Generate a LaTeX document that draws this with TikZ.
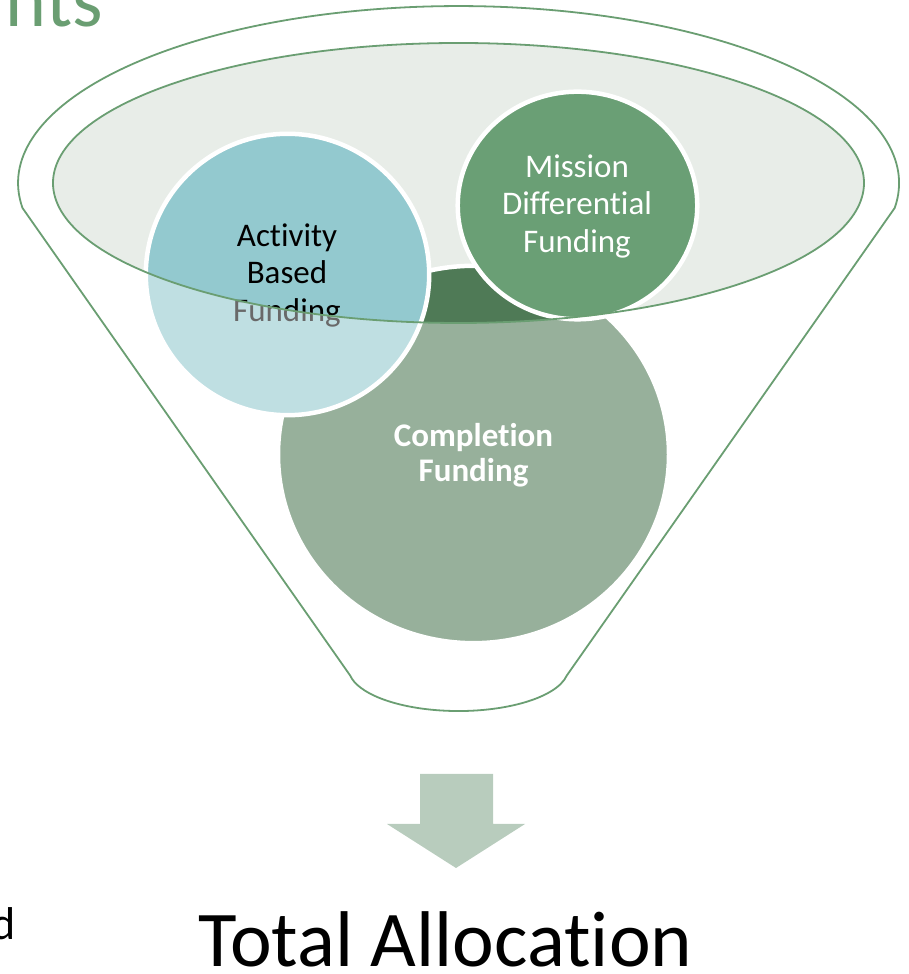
\documentclass[tikz,border=0pt]{standalone}
\usepackage{fontspec}
\setmainfont{Carlito}[Ligatures={NoCommon}]
\definecolor{lineg}{HTML}{6A9E72}
\definecolor{topfill}{HTML}{E8EDE8}
\definecolor{actc}{HTML}{93C9CF}
\definecolor{misc}{HTML}{6A9F75}
\definecolor{comc}{HTML}{4F7A56}
\definecolor{arrc}{HTML}{B8CCBD}
\tikzset{
  bubble/.style={draw=white, line width=4.5pt},
  rim/.style={draw=lineg, line width=1.8pt},
  lbl/.style={align=center, inner sep=0pt, font=\fontsize{33}{37.5}\selectfont},
}
\begin{document}
\begin{tikzpicture}[x=1pt,y=1pt]
\useasboundingbox (0,0) rectangle (908,974);
% top opening of the funnel
\fill[topfill] (458.5,791) ellipse [x radius=405.5, y radius=140];
% circles
\path[bubble, fill=comc] (473.5,519.5) ellipse [x radius=195.5, y radius=188.7];
\path[bubble, fill=actc] (287.5,699.5) ellipse [x radius=141.7, y radius=140.7];
\path[bubble, fill=misc] (577.5,768.5) ellipse [x radius=119.8, y radius=113.8];
% labels
\node[lbl, text=black] (act) at (287,699) {Activity\\Based\\Funding};
\node[lbl, text=white] (mis) at (577,768) {Mission\\Differential\\Funding};
\node[lbl, text=white, font=\fontsize{33}{34.5}\selectfont\bfseries] (com) at (473.5,519) {Completion\\Funding};
% translucent funnel body
\fill[white, fill opacity=0.41, even odd rule]
  (22.5,766) arc[start angle=188.1, end angle=-8.1, x radius=440.5, y radius=177]
  -- (566.8,298.5) arc[start angle=-10, end angle=-170, x radius=110, y radius=43] -- cycle
  (458.5,791) ellipse [x radius=405.5, y radius=140];
% outlines
\draw[rim, line join=round]
  (22.5,766) arc[start angle=188.1, end angle=-8.1, x radius=440.5, y radius=177]
  -- (566.8,298.5) arc[start angle=-10, end angle=-170, x radius=110, y radius=43] -- cycle;
\draw[rim] (458.5,791) ellipse [x radius=405.5, y radius=140];
% arrow
\fill[arrc] (420,200) -- (493,200) -- (493,150) -- (525,150) -- (456,106) -- (387,150) -- (420,150) -- cycle;
% texts
\node[anchor=base, inner sep=0pt, font=\fontsize{79}{90}\selectfont] (total) at (445.5,7) {Total Allocation};
\node[anchor=base east, inner sep=0pt, text=lineg, font=\fontsize{78}{86}\selectfont] (title) at (103,947) {nts};
\node[anchor=base east, inner sep=0pt, font=\fontsize{46}{50}\selectfont] (dd) at (16,34) {d};
\end{tikzpicture}
\end{document}
